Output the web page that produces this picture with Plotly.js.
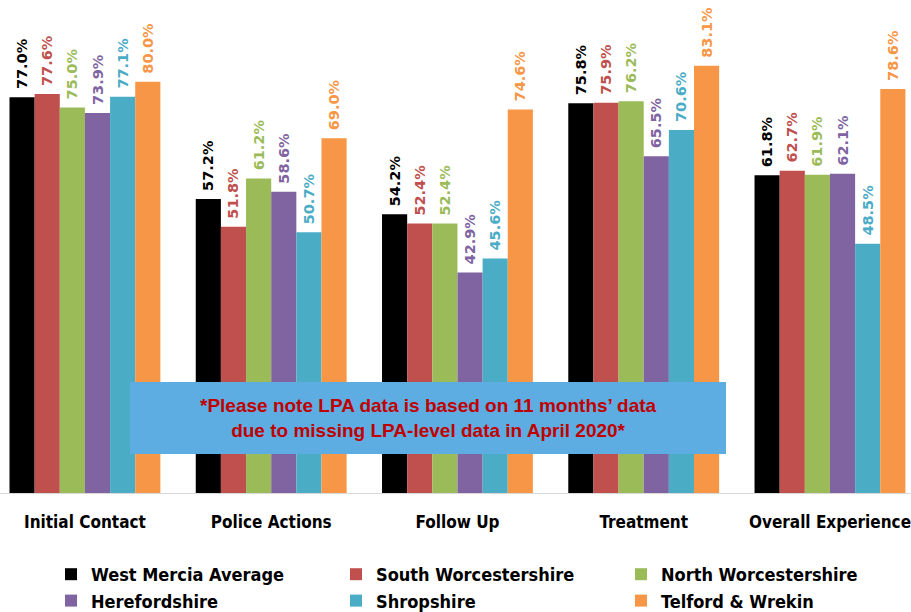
<!DOCTYPE html>
<html>
<head>
<meta charset="utf-8">
<script src="https://cdn.plot.ly/plotly-3.0.1.min.js"></script>
<style>html,body{margin:0;padding:0;background:#fff;}#chart{width:911px;height:612px;}</style>
</head>
<body>
<div id="chart"></div>
<script>
const categories = ["Initial Contact", "Police Actions", "Follow Up", "Treatment", "Overall Experience"];
const seriesNames = ["West Mercia Average", "South Worcestershire", "North Worcestershire", "Herefordshire", "Shropshire", "Telford & Wrekin"];
const westMercia = [77.0, 57.2, 54.2, 75.8, 61.8];
const southWorcs = [77.6, 51.8, 52.4, 75.9, 62.7];
const northWorcs = [75.0, 61.2, 52.4, 76.2, 61.9];
const herefordshire = [73.9, 58.6, 42.9, 65.5, 62.1];
const shropshire = [77.1, 50.7, 45.6, 70.6, 48.5];
const telford = [80.0, 69.0, 74.6, 83.1, 78.6];
const colors = ["#000000", "#C0504D", "#9BBB59", "#8064A2", "#4BACC6", "#F79646"];
const noteText = "*Please note LPA data is based on 11 months’ data<br>due to missing LPA-level data in April 2020*";

const narrow = "'DejaVu Sans Condensed', Lato, sans-serif";
const allSeries = [westMercia, southWorcs, northWorcs, herefordshire, shropshire, telford];
const traces = allSeries.map((vals, i) => ({
  type: "bar",
  name: seriesNames[i],
  x: categories,
  y: vals,
  marker: {color: colors[i]},
  texttemplate: "\u00a0%{y:.1f}%",
  textposition: "outside",
  textangle: -90,
  constraintext: "none",
  cliponaxis: false,
  textfont: {family: "DejaVu Sans", size: 14.5, color: colors[i], weight: "bold"},
  hoverinfo: "skip"
}));

const layout = {
  width: 911, height: 612,
  margin: {l: 0, r: 0, t: 0, b: 119},
  paper_bgcolor: "#fff", plot_bgcolor: "#fff",
  barmode: "group", bargap: 0.19, bargroupgap: 0,
  showlegend: true,
  xaxis: {
    type: "category", range: [-0.456, 4.435],
    showline: true, linecolor: "#d9d9d9", linewidth: 1,
    showgrid: false, ticks: "", ticklabelstandoff: 14,
    tickfont: {family: narrow, size: 17, color: "#000", weight: "bold"}
  },
  yaxis: {range: [0, 95.9], visible: false, showgrid: false, zeroline: false},
  legend: {
    orientation: "h", x: 0.056, xanchor: "left", xref: "container",
    y: 1 - 556/612, yanchor: "top", yref: "container",
    entrywidth: 240, entrywidthmode: "pixels", traceorder: "normal",
    itemwidth: 30, tracegroupgap: 0,
    font: {family: narrow, size: 18, color: "#000", weight: "bold"}
  },
  shapes: [{
    type: "rect", xref: "paper", yref: "paper",
    x0: 130/911, x1: 726/911, y0: 1 - 454/493, y1: 1 - 382/493,
    fillcolor: "#5DADE2", line: {width: 0}, layer: "above"
  }],
  annotations: [{
    xref: "paper", yref: "paper", x: 428/911, y: 1 - 418/493,
    xanchor: "center", yanchor: "middle", showarrow: false,
    text: noteText, align: "center",
    font: {family: "Liberation Sans", size: 19, color: "#C00000", weight: "bold"}
  }]
};

Plotly.newPlot("chart", traces, layout, {displayModeBar: false, staticPlot: true});
</script>
</body>
</html>
